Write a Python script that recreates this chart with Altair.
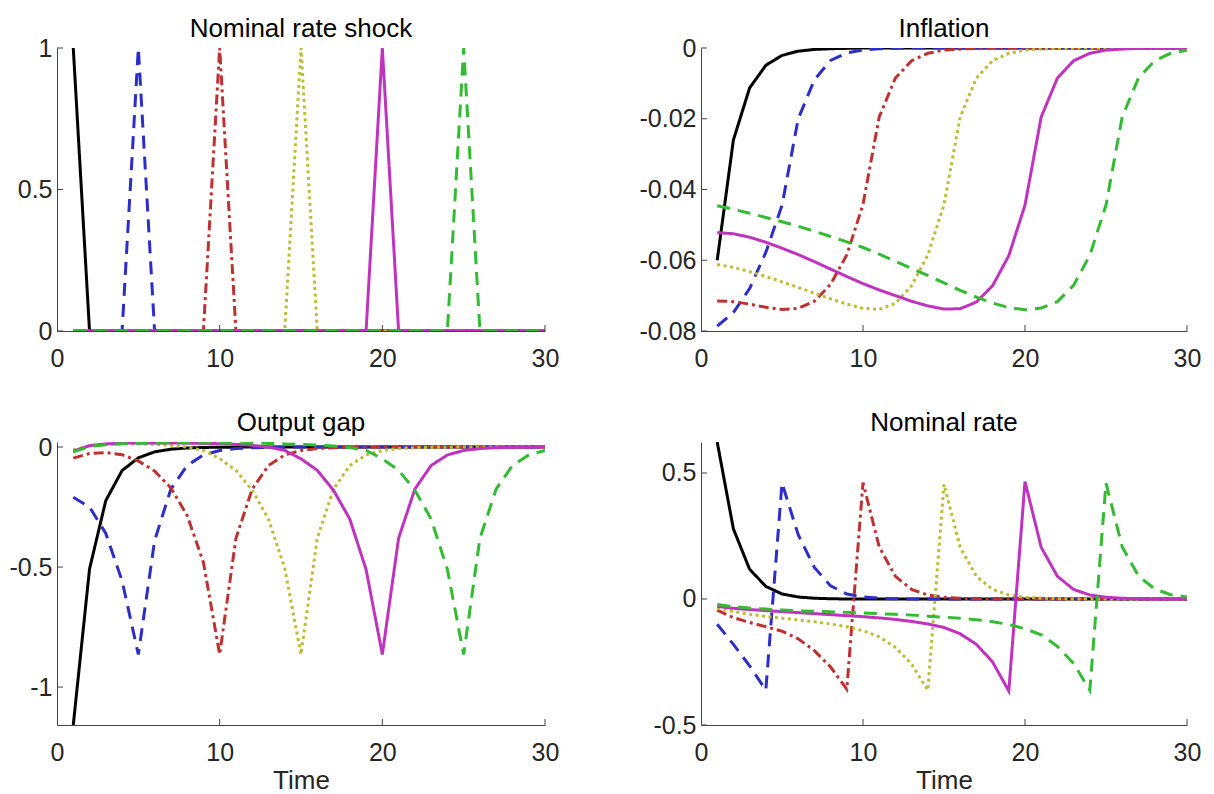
import altair as alt
import pandas as pd

# ---------------- data ----------------
time = [1, 2, 3, 4, 5, 6, 7, 8, 9, 10, 11, 12, 13, 14, 15,
        16, 17, 18, 19, 20, 21, 22, 23, 24, 25, 26, 27, 28, 29, 30]

series_names = ["1_black", "2_blue", "3_red", "4_yellow", "5_magenta", "6_green"]

# Nominal rate shock
shock_black = [1, 0, 0, 0, 0, 0, 0, 0, 0, 0, 0, 0, 0, 0, 0, 0, 0, 0, 0, 0, 0, 0, 0, 0, 0, 0, 0, 0, 0, 0]
shock_blue = [0, 0, 0, 0, 1, 0, 0, 0, 0, 0, 0, 0, 0, 0, 0, 0, 0, 0, 0, 0, 0, 0, 0, 0, 0, 0, 0, 0, 0, 0]
shock_red = [0, 0, 0, 0, 0, 0, 0, 0, 0, 1, 0, 0, 0, 0, 0, 0, 0, 0, 0, 0, 0, 0, 0, 0, 0, 0, 0, 0, 0, 0]
shock_yellow = [0, 0, 0, 0, 0, 0, 0, 0, 0, 0, 0, 0, 0, 0, 1, 0, 0, 0, 0, 0, 0, 0, 0, 0, 0, 0, 0, 0, 0, 0]
shock_magenta = [0, 0, 0, 0, 0, 0, 0, 0, 0, 0, 0, 0, 0, 0, 0, 0, 0, 0, 0, 1, 0, 0, 0, 0, 0, 0, 0, 0, 0, 0]
shock_green = [0, 0, 0, 0, 0, 0, 0, 0, 0, 0, 0, 0, 0, 0, 0, 0, 0, 0, 0, 0, 0, 0, 0, 0, 1, 0, 0, 0, 0, 0]

# Inflation
infl_black = [-0.0600, -0.0260, -0.0113, -0.0049, -0.0021, -0.0009, -0.0004, -0.0002, -0.0001, 0,
              0, 0, 0, 0, 0, 0, 0, 0, 0, 0, 0, 0, 0, 0, 0, 0, 0, 0, 0, 0]
infl_blue = [-0.0786, -0.0748, -0.0680, -0.0578, -0.0445, -0.0200, -0.0090, -0.0035, -0.0014, -0.0006,
             -0.0002, -0.0001, 0, 0, 0, 0, 0, 0, 0, 0, 0, 0, 0, 0, 0, 0, 0, 0, 0, 0]
infl_red = [-0.0715, -0.0717, -0.0724, -0.0733, -0.0739, -0.0736, -0.0716, -0.0668, -0.0585, -0.0442,
            -0.0195, -0.0085, -0.0036, -0.0015, -0.0006, -0.0003, -0.0001, 0, 0, 0,
            0, 0, 0, 0, 0, 0, 0, 0, 0, 0]
infl_yellow = [-0.0612, -0.0620, -0.0632, -0.0646, -0.0661, -0.0677, -0.0693, -0.0709, -0.0724, -0.0736,
               -0.0739, -0.0722, -0.0672, -0.0585, -0.0443, -0.0195, -0.0085, -0.0036, -0.0015, -0.0006,
               -0.0003, -0.0001, 0, 0, 0, 0, 0, 0, 0, 0]
infl_magenta = [-0.0522, -0.0525, -0.0535, -0.0549, -0.0566, -0.0584, -0.0604, -0.0625, -0.0646, -0.0666,
                -0.0684, -0.0700, -0.0716, -0.0729, -0.0738, -0.0737, -0.0718, -0.0672, -0.0587, -0.0444,
                -0.0195, -0.0085, -0.0036, -0.0015, -0.0006, -0.0003, -0.0001, 0, 0, 0]
infl_green = [-0.0446, -0.0456, -0.0467, -0.0479, -0.0491, -0.0504, -0.0518, -0.0533, -0.0548, -0.0564,
              -0.0583, -0.0603, -0.0623, -0.0643, -0.0664, -0.0685, -0.0704, -0.0721, -0.0734, -0.0740,
              -0.0735, -0.0717, -0.0671, -0.0586, -0.0444, -0.0195, -0.0085, -0.0036, -0.0015, -0.0006]

# Output gap
gap_black = [-1.158, -0.508, -0.223, -0.098, -0.045, -0.020, -0.009, -0.004, -0.0017, -0.0008,
             -0.0003, -0.0001, 0, 0, 0, 0, 0, 0, 0, 0, 0, 0, 0, 0, 0, 0, 0, 0, 0, 0]
gap_blue = [-0.209, -0.250, -0.360, -0.557, -0.864, -0.390, -0.175, -0.077, -0.033, -0.0145,
            -0.0063, -0.0027, -0.0012, -0.0005, -0.0002, 0, 0, 0, 0, 0,
            0, 0, 0, 0, 0, 0, 0, 0, 0, 0]
gap_red = [-0.046, -0.027, -0.023, -0.032, -0.058, -0.100, -0.170, -0.285, -0.480, -0.864,
           -0.380, -0.175, -0.077, -0.033, -0.0145, -0.0063, -0.0027, -0.0012, -0.0005, -0.0002,
           0, 0, 0, 0, 0, 0, 0, 0, 0, 0]
gap_yellow = [-0.012, 0.005, 0.011, 0.013, 0.013, 0.011, 0.007, 0.000, -0.014, -0.048,
              -0.097, -0.180, -0.300, -0.505, -0.864, -0.380, -0.175, -0.077, -0.033, -0.0145,
              -0.0063, -0.0027, -0.0012, -0.0005, -0.0002, 0, 0, 0, 0, 0]
gap_magenta = [-0.017, 0.006, 0.013, 0.016, 0.017, 0.017, 0.017, 0.016, 0.015, 0.014,
               0.011, 0.007, 0.000, -0.014, -0.049, -0.097, -0.180, -0.300, -0.510, -0.864,
               -0.380, -0.175, -0.077, -0.033, -0.0145, -0.0063, -0.0027, -0.0012, -0.0005, -0.0002]
gap_green = [-0.020, 0.002, 0.010, 0.014, 0.016, 0.017, 0.018, 0.018, 0.018, 0.017,
             0.017, 0.016, 0.015, 0.013, 0.011, 0.008, 0.004, -0.002, -0.014, -0.049,
             -0.097, -0.180, -0.300, -0.510, -0.864, -0.380, -0.175, -0.077, -0.033, -0.0145]

# Nominal rate
rate_black = [0.623, 0.278, 0.118, 0.050, 0.020, 0.008, 0.003, 0.001, 0, 0,
              0, 0, 0, 0, 0, 0, 0, 0, 0, 0, 0, 0, 0, 0, 0, 0, 0, 0, 0, 0]
rate_blue = [-0.100, -0.180, -0.265, -0.362, 0.460, 0.255, 0.125, 0.052, 0.020, 0.008,
             0.003, 0.001, 0, 0, 0, 0, 0, 0, 0, 0, 0, 0, 0, 0, 0, 0, 0, 0, 0, 0]
rate_red = [-0.044, -0.074, -0.093, -0.110, -0.128, -0.158, -0.205, -0.270, -0.358, 0.462,
            0.207, 0.090, 0.038, 0.016, 0.007, 0.003, 0.001, 0, 0, 0,
            0, 0, 0, 0, 0, 0, 0, 0, 0, 0]
rate_yellow = [-0.036, -0.050, -0.061, -0.069, -0.076, -0.083, -0.090, -0.099, -0.110, -0.126,
               -0.150, -0.192, -0.258, -0.362, 0.455, 0.205, 0.090, 0.038, 0.016, 0.007,
               0.003, 0.001, 0, 0, 0, 0, 0, 0, 0, 0]
rate_magenta = [-0.029, -0.037, -0.042, -0.046, -0.050, -0.054, -0.058, -0.062, -0.066, -0.070,
                -0.075, -0.081, -0.089, -0.099, -0.113, -0.138, -0.180, -0.250, -0.365, 0.466,
                0.205, 0.090, 0.038, 0.016, 0.007, 0.003, 0.001, 0, 0, 0]
rate_green = [-0.022, -0.030, -0.036, -0.040, -0.044, -0.047, -0.049, -0.051, -0.053, -0.055,
              -0.058, -0.061, -0.064, -0.068, -0.072, -0.076, -0.082, -0.090, -0.101, -0.118,
              -0.142, -0.188, -0.256, -0.362, 0.460, 0.207, 0.092, 0.040, 0.017, 0.008]

# axis ticks / labels
x_ticks = [10, 20, 30]
x_labels = [0, 10, 20, 30]
shock_yticks = [0, 0.5, 1]
infl_yticks = [-0.08, -0.06, -0.04, -0.02, 0]
gap_yticks = [-1, -0.5, 0]
rate_yticks = [-0.5, 0, 0.5]

# ---------------- styles ----------------
series_colors = ["#000000", "#2d2dc8", "#bf3030", "#bdbd33", "#bf33bf", "#33bb33"]
series_dashes = [[1, 0], [13, 8], [10, 4, 3, 4], [3, 3.5], [1, 0], [13, 8]]
FONT = "Liberation Sans"
AXIS_COLOR = "#444444"
PW = 488
PH = 283


def panel(title, arrays, ydomain, yticks, show_time, width, title_offset):
    rows = []
    for name, arr in zip(series_names, arrays):
        for t, v in zip(time, arr):
            rows.append({"t": t, "value": v, "series": name})
    df = pd.DataFrame(rows)

    x_axis = alt.Axis(values=x_labels, ticks=False, grid=False, labelFlush=False,
                      labelOverlap=False, labelExpr="'' + datum.value",
                      labelPadding=15, title="Time" if show_time else None)
    y_axis = alt.Axis(values=yticks, ticks=False, grid=False, labelFlush=False,
                      labelOverlap=False, labelExpr="'' + datum.value",
                      labelPadding=5, title=None)
    x = alt.X("t:Q", scale=alt.Scale(domain=[0, 30], nice=False, zero=False), axis=x_axis)
    y = alt.Y("value:Q", scale=alt.Scale(domain=ydomain, nice=False, zero=False), axis=y_axis)

    lines = alt.Chart(df).mark_line(strokeWidth=3, clip=True, strokeCap="butt").encode(
        x=x,
        y=y,
        color=alt.Color("series:N", scale=alt.Scale(domain=series_names, range=series_colors), legend=None),
        strokeDash=alt.StrokeDash("series:N", scale=alt.Scale(domain=series_names, range=series_dashes),
                                  legend=None),
    )
    xt = alt.Chart(pd.DataFrame({"t": x_ticks})).mark_rule(color=AXIS_COLOR, strokeWidth=1).encode(
        x=x, y=alt.value(PH), y2=alt.value(PH - 6)
    )
    yt = alt.Chart(pd.DataFrame({"value": yticks})).mark_rule(color=AXIS_COLOR, strokeWidth=1).encode(
        y=y, x=alt.value(0), x2=alt.value(6)
    )
    return alt.layer(lines, xt, yt).properties(
        width=width, height=PH, title=alt.TitleParams(title, frame="group", offset=title_offset)
    )


p1 = panel("Nominal rate shock",
           [shock_black, shock_blue, shock_red, shock_yellow, shock_magenta, shock_green],
           [0, 1], shock_yticks, False, PW, -6)
p2 = panel("Inflation",
           [infl_black, infl_blue, infl_red, infl_yellow, infl_magenta, infl_green],
           [-0.08, 0], infl_yticks, False, 486, -6)
p3 = panel("Output gap",
           [gap_black, gap_blue, gap_red, gap_yellow, gap_magenta, gap_green],
           [-1.158, 0.021], gap_yticks, True, PW, -1)
p4 = panel("Nominal rate",
           [rate_black, rate_blue, rate_red, rate_yellow, rate_magenta, rate_green],
           [-0.5, 0.623], rate_yticks, True, 486, 6)

chart = alt.concat(p1, p2, p3, p4, columns=2, spacing={"row": 111, "column": 156},
                   bounds="flush").configure_view(
    strokeWidth=0
).configure_axis(
    domainColor=AXIS_COLOR, domainWidth=1,
    labelFont=FONT, labelFontSize=25, labelColor="#262626",
    titleFont=FONT, titleFontSize=26, titleFontWeight="normal", titleColor="#262626",
    titlePadding=2,
).configure_title(
    font=FONT, fontSize=26, fontWeight="normal", color="#000000", anchor="middle"
).properties(background="white", padding={"left": 0, "top": 8, "right": 0, "bottom": 0})

chart.save("out.html", embed_options={"renderer": "svg", "actions": False})
